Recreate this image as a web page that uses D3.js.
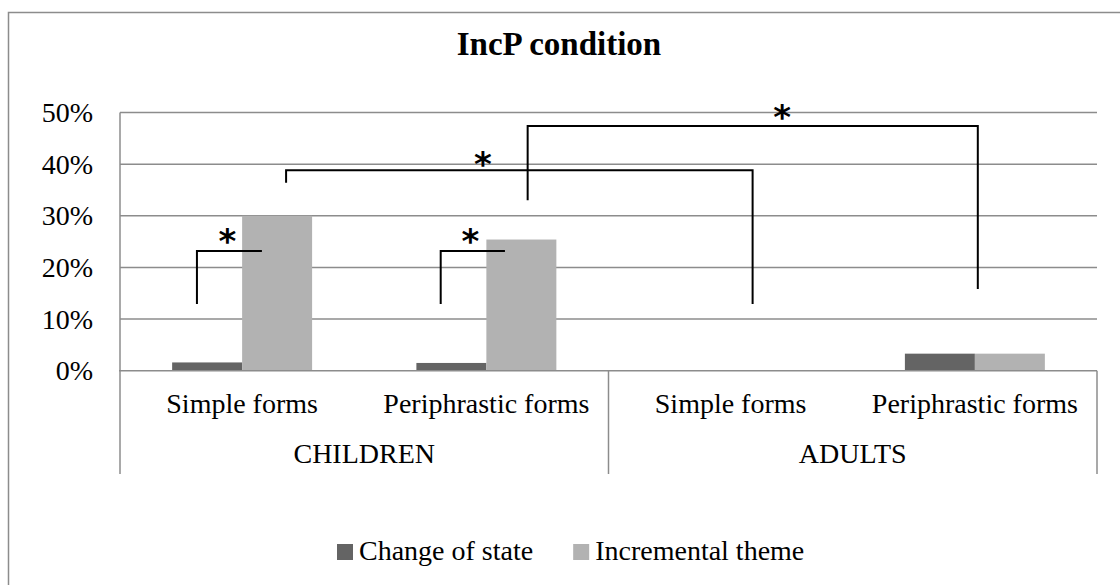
<!DOCTYPE html>
<html>
<head>
<meta charset="utf-8">
<script src="https://cdn.jsdelivr.net/npm/d3@7"></script>
<style>
  html, body { margin: 0; padding: 0; background: #fff; }
  svg { display: block; }
  text { font-family: "Liberation Serif", "Times New Roman", serif; fill: #000; }
</style>
</head>
<body>
<svg id="chart" width="1120" height="585"></svg>
<script>
// Groups along the category axis and the forms within each group
const groups = ["CHILDREN", "ADULTS"];
const forms = ["Simple forms", "Periphrastic forms"];
const categories = ["CHILDREN|Simple forms", "CHILDREN|Periphrastic forms",
                    "ADULTS|Simple forms", "ADULTS|Periphrastic forms"];

// Series (percent of responses)
const seriesNames = ["Change of state", "Incremental theme"];
const changeOfState = [1.6, 1.5, 0, 3.3];
const incrementalTheme = [30, 25.4, 0, 3.3];

// Y axis ticks
const yTicks = [0, 10, 20, 30, 40, 50];
const yTickLabels = ["0%", "10%", "20%", "30%", "40%", "50%"];

// Significance brackets: x in category units (index + fraction of band), y in percent
const significance = [
  { from: [0.315, 12.9], top: 23.2, to: [0.581, 23.2], star: [0.44, 26.6] },
  { from: [1.313, 12.9], top: 23.2, to: [1.576, 23.2], star: [1.435, 26.6] },
  { from: [0.680, 36.4], top: 38.8, to: [2.590, 12.9], star: [1.486, 41.4] },
  { from: [1.669, 33.0], top: 47.4, to: [3.512, 15.8], star: [2.711, 50.6] }
];

const colors = ["#646464", "#b2b2b2"];
const gridColor = "#8c8c8c";

const svg = d3.select("#chart");
const plot = { left: 120, right: 1097, top: 112.5, bottom: 370.7 };

// Outer chart frame (runs past the visible edges)
svg.append("rect")
  .attr("x", 8.5).attr("y", 12.5)
  .attr("width", 1200).attr("height", 700)
  .attr("fill", "none").attr("stroke", gridColor).attr("stroke-width", 1.5);

// Title
svg.append("text")
  .attr("x", 559).attr("y", 55)
  .attr("text-anchor", "middle")
  .style("font-size", "33px").style("font-weight", "bold")
  .text("IncP condition");

const y = d3.scaleLinear().domain([0, 50]).range([plot.bottom, plot.top]);
const x0 = d3.scaleBand().domain(categories).range([plot.left, plot.right]).padding(0);
const x1 = d3.scaleBand().domain(seriesNames).range([0, x0.bandwidth()])
  .paddingInner(0).paddingOuter(0.745);
const xc = d3.scaleLinear().domain([0, categories.length]).range([plot.left, plot.right]);

// Horizontal gridlines
svg.append("g").selectAll("line").data(yTicks.filter(t => t > 0)).join("line")
  .attr("x1", plot.left).attr("x2", plot.right)
  .attr("y1", d => y(d)).attr("y2", d => y(d))
  .attr("stroke", gridColor).attr("stroke-width", 1.5);

// Y axis line
svg.append("line")
  .attr("x1", plot.left).attr("x2", plot.left)
  .attr("y1", plot.top).attr("y2", plot.bottom)
  .attr("stroke", gridColor).attr("stroke-width", 1.5);

// Y tick labels
svg.append("g").selectAll("text").data(yTicks).join("text")
  .attr("x", 93).attr("y", d => y(d) + 9.5)
  .attr("text-anchor", "end")
  .style("font-size", "28px")
  .text((d, i) => yTickLabels[i]);

// Bars
const seriesValues = [changeOfState, incrementalTheme];
const barData = [];
categories.forEach((c, ci) => {
  seriesNames.forEach((s, si) => barData.push({ c, s, v: seriesValues[si][ci], si }));
});
svg.append("g").selectAll("rect").data(barData).join("rect")
  .attr("x", d => x0(d.c) + x1(d.s))
  .attr("width", x1.bandwidth())
  .attr("y", d => y(d.v))
  .attr("height", d => y(0) - y(d.v))
  .attr("fill", d => colors[d.si]);

// Category axis line and group dividers
svg.append("line")
  .attr("x1", plot.left - 1).attr("x2", plot.right)
  .attr("y1", y(0)).attr("y2", y(0))
  .attr("stroke", gridColor).attr("stroke-width", 1.5);
const dividerBottom = 474;
[0, 2, 4].forEach(i => {
  svg.append("line")
    .attr("x1", xc(i)).attr("x2", xc(i))
    .attr("y1", y(0)).attr("y2", dividerBottom)
    .attr("stroke", gridColor).attr("stroke-width", 1.5);
});

// Form labels
svg.append("g").selectAll("text").data(categories).join("text")
  .attr("x", d => x0(d) + x0.bandwidth() / 2)
  .attr("y", 413)
  .attr("text-anchor", "middle")
  .style("font-size", "28px")
  .text(d => d.split("|")[1]);

// Group labels
svg.append("g").selectAll("text").data(groups).join("text")
  .attr("x", (d, i) => (xc(i * 2) + xc(i * 2 + 2)) / 2)
  .attr("y", 463)
  .attr("text-anchor", "middle")
  .style("font-size", "28px")
  .text(d => d);

// Significance brackets
const br = svg.append("g");
significance.forEach(b => {
  br.append("path")
    .attr("d", `M${xc(b.from[0])},${y(b.from[1])}V${y(b.top)}H${xc(b.to[0])}V${y(b.to[1])}`)
    .attr("fill", "none").attr("stroke", "#000").attr("stroke-width", 2);
  const t = br.append("text")
    .attr("x", xc(b.star[0])).attr("y", y(b.star[1]))
    .attr("text-anchor", "middle")
    .style("font-family", "'DejaVu Sans', sans-serif")
    .style("font-weight", "bold")
    .style("font-size", "34px")
    .text("*");
  const bb = t.node().getBBox();
  const cy = bb.y + bb.height * 0.32;
  t.attr("y", y(b.star[1]) + (y(b.star[1]) - cy));
});

// Legend
const legend = svg.append("g");
let lx = 337;
seriesNames.forEach((s, i) => {
  legend.append("rect")
    .attr("x", lx).attr("y", 544).attr("width", 16).attr("height", 16)
    .attr("fill", colors[i]);
  const t = legend.append("text")
    .attr("x", lx + 22).attr("y", 560)
    .style("font-size", "28px")
    .text(s);
  lx += 22 + t.node().getComputedTextLength() + 40;
});
</script>
</body>
</html>
